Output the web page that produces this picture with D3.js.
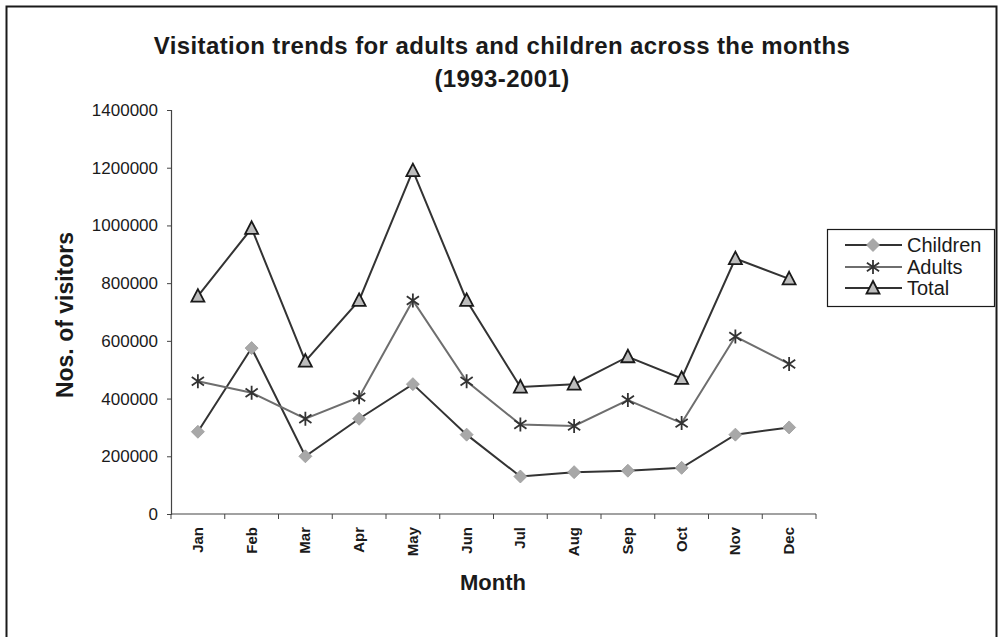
<!DOCTYPE html>
<html>
<head>
<meta charset="utf-8">
<script src="https://cdn.jsdelivr.net/npm/d3@7"></script>
<style>
  html, body { margin: 0; padding: 0; background: #fff; }
  svg { display: block; }
  text { font-family: "Liberation Sans", Arial, sans-serif; fill: #1a1a1a; }
</style>
</head>
<body>
<script>
// Monthly visitor counts, 1993-2001
const months = ["Jan","Feb","Mar","Apr","May","Jun","Jul","Aug","Sep","Oct","Nov","Dec"];
const children = [285000, 575000, 200000, 330000, 450000, 275000, 130000, 145000, 150000, 160000, 275000, 300000];
const adults   = [460000, 420000, 330000, 405000, 740000, 460000, 310000, 305000, 395000, 315000, 615000, 520000];
const total    = [755000, 990000, 530000, 740000, 1190000, 740000, 440000, 450000, 545000, 470000, 885000, 815000];
const yTicks   = [0, 200000, 400000, 600000, 800000, 1000000, 1200000, 1400000];
const seriesNames = ["Children", "Adults", "Total"];

const W = 1004, H = 637;
const plot = { left: 171, right: 816, top: 110, bottom: 514 };

const svg = d3.select("body").append("svg").attr("width", W).attr("height", H);

// outer chart frame
svg.append("rect")
  .attr("x", 6.5).attr("y", 6.5).attr("width", 990).attr("height", 640)
  .attr("fill", "none").attr("stroke", "#1a1a1a").attr("stroke-width", 2);

const x = d3.scaleBand().domain(months).range([plot.left, plot.right]);
const y = d3.scaleLinear().domain([0, 1400000]).range([plot.bottom, plot.top]);
const cx = m => x(m) + x.bandwidth() / 2;

// title
const title = svg.append("text").attr("text-anchor", "middle")
  .style("font-weight", "bold").style("font-size", "24px").style("letter-spacing", "0.4px");
title.append("tspan").attr("x", 502).attr("y", 54)
  .text("Visitation trends for adults and children across the months");
title.append("tspan").attr("x", 502).attr("y", 87).text("(1993-2001)");

// y axis
const yAxis = svg.append("g").attr("transform", `translate(${plot.left},0)`)
  .call(d3.axisLeft(y).tickValues(yTicks).tickFormat(d3.format("d")).tickSizeOuter(0).tickSize(4).tickPadding(9));
yAxis.select(".domain").attr("stroke", "#444").attr("stroke-width", 1.2);
yAxis.selectAll(".tick line").attr("stroke", "#444");
yAxis.selectAll(".tick text").style("font-size", "17px").attr("fill", "#1a1a1a")
  .style("font-family", "'Liberation Sans', Arial, sans-serif");

// x axis with tick marks on category boundaries
const xAxis = svg.append("g").attr("transform", `translate(0,${plot.bottom})`);
xAxis.append("line").attr("x1", plot.left).attr("x2", plot.right)
  .attr("stroke", "#444").attr("stroke-width", 1.2);
const bounds = months.map(m => x(m)).concat([x(months[months.length - 1]) + x.bandwidth()]);
xAxis.selectAll("line.tk").data(bounds).join("line").attr("class", "tk")
  .attr("x1", d => d).attr("x2", d => d).attr("y1", 0).attr("y2", 5)
  .attr("stroke", "#444");
xAxis.selectAll("text").data(months).join("text")
  .attr("transform", d => `translate(${cx(d) + 5},13) rotate(-90)`)
  .attr("text-anchor", "end")
  .style("font-size", "15px").style("font-weight", "bold")
  .text(d => d);

// axis titles
svg.append("text").attr("x", 493).attr("y", 590).attr("text-anchor", "middle")
  .style("font-weight", "bold").style("font-size", "22px").text("Month");
svg.append("text").attr("transform", "translate(73,315) rotate(-90)")
  .attr("text-anchor", "middle")
  .style("font-weight", "bold").style("font-size", "23px").text("Nos. of visitors");

// marker shapes
function drawDiamond(g) {
  g.append("path").attr("d", "M0,-6.5L6.5,0L0,6.5L-6.5,0Z")
    .attr("fill", "#a8a8a8").attr("stroke", "#9a9a9a").attr("stroke-width", 0.8);
}
function drawStar(g) {
  const r = 7;
  const p = `M0,${-r}L0,${r}M${-r*0.87},${-r*0.6}L${r*0.87},${r*0.6}M${-r*0.87},${r*0.6}L${r*0.87},${-r*0.6}`;
  g.append("path").attr("d", p).attr("stroke", "#333").attr("stroke-width", 1.8).attr("fill", "none");
}
function drawTriangle(g) {
  g.append("path").attr("d", "M0,-7L6.5,5.5L-6.5,5.5Z")
    .attr("fill", "#bdbdbd").attr("stroke", "#1a1a1a").attr("stroke-width", 1.8)
    .attr("stroke-linejoin", "miter");
}

const series = [
  { name: seriesNames[0], values: children, line: "#333", marker: drawDiamond },
  { name: seriesNames[1], values: adults,   line: "#6e6e6e", marker: drawStar },
  { name: seriesNames[2], values: total,    line: "#333", marker: drawTriangle }
];

const line = d3.line().x((d, i) => cx(months[i])).y(d => y(d));

series.forEach(s => {
  svg.append("path").datum(s.values).attr("d", line)
    .attr("fill", "none").attr("stroke", s.line).attr("stroke-width", 2);
});
series.forEach(s => {
  s.values.forEach((v, i) => {
    const g = svg.append("g").attr("transform", `translate(${cx(months[i])},${y(v)})`);
    s.marker(g);
  });
});

// legend
const lg = svg.append("g");
lg.append("rect").attr("x", 827.5).attr("y", 229.5).attr("width", 167).attr("height", 77)
  .attr("fill", "#fff").attr("stroke", "#1a1a1a").attr("stroke-width", 1.2);
const rowY = [245, 267, 288];
series.forEach((s, i) => {
  const row = lg.append("g").attr("transform", `translate(0,${rowY[i]})`);
  row.append("line").attr("x1", 845).attr("x2", 902).attr("y1", 0).attr("y2", 0)
    .attr("stroke", s.line).attr("stroke-width", 2);
  const mg = row.append("g").attr("transform", "translate(873,0)");
  s.marker(mg);
  row.append("text").attr("x", 907).attr("y", 7).style("font-size", "20px").text(s.name);
});
</script>
</body>
</html>
